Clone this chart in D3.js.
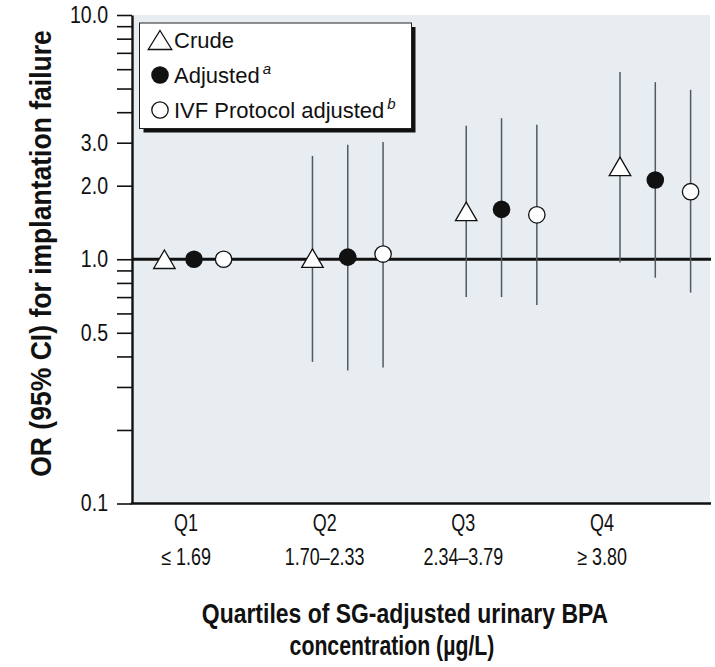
<!DOCTYPE html>
<html>
<head>
<meta charset="utf-8">
<script src="https://cdn.jsdelivr.net/npm/d3@7"></script>
<style>
  html, body { margin: 0; padding: 0; background: #ffffff; }
  svg { display: block; }
  text { font-family: "Liberation Sans", Arial, sans-serif; }
</style>
</head>
<body>
<script>
// ---------------- data ----------------
const categories = ["Q1", "Q2", "Q3", "Q4"];
const rangeLabels = ["\u2264 1.69", "1.70\u20132.33", "2.34\u20133.79", "\u2265 3.80"];
const seriesNames = ["Crude", "Adjusted", "IVF Protocol adjusted"];
const seriesSup = ["", "a", "b"];

const crudeOR = [1.00, 1.01, 1.57, 2.40];
const crudeLo = [null, 0.38, 0.70, 0.97];
const crudeHi = [null, 2.65, 3.52, 5.84];

const adjustedOR = [1.00, 1.02, 1.60, 2.11];
const adjustedLo = [null, 0.35, 0.70, 0.84];
const adjustedHi = [null, 2.94, 3.78, 5.31];

const ivfOR = [1.00, 1.05, 1.52, 1.89];
const ivfLo = [null, 0.36, 0.65, 0.73];
const ivfHi = [null, 3.02, 3.55, 4.94];

const yTickValues = [0.1, 0.2, 0.3, 0.4, 0.5, 0.6, 0.7, 0.8, 0.9, 1, 2, 3, 4, 5, 6, 7, 8, 9, 10];
const yLabeledTicks = [0.1, 0.5, 1, 2, 3, 10];

const yTitle = "OR (95% CI) for implantation failure";
const xTitle1 = "Quartiles of SG-adjusted urinary BPA";
const xTitle2 = "concentration (\u00b5g/L)";

// ---------------- layout ----------------
const W = 715, H = 667;
const plot = { left: 132, right: 711, top: 15, bottom: 503.5 };

const svg = d3.select("body").append("svg").attr("width", W).attr("height", H);

const y = d3.scaleLog().domain([0.1, 10]).range([plot.bottom, plot.top]);
const xGroup = d3.scalePoint().domain(categories).range([194, 655.3]);
const xLabel = d3.scalePoint().domain(categories).range([186, 602]);
const seriesIndex = d3.scaleLinear().domain([0, 2]).range([-1, 1]);

const series = [
  { name: seriesNames[0], or: crudeOR, lo: crudeLo, hi: crudeHi, shape: "triangle" },
  { name: seriesNames[1], or: adjustedOR, lo: adjustedLo, hi: adjustedHi, shape: "filled" },
  { name: seriesNames[2], or: ivfOR, lo: ivfLo, hi: ivfHi, shape: "open" }
];

function xPos(si, ci) {
  const hasCI = series[si].lo[ci] !== null;
  const spread = hasCI ? 35.3 : 29.6;
  return xGroup(categories[ci]) + seriesIndex(si) * spread;
}

// background
svg.append("rect")
  .attr("x", plot.left).attr("y", plot.top)
  .attr("width", 710 - plot.left).attr("height", plot.bottom - plot.top)
  .attr("fill", "#e8edf2");

// reference line at OR = 1
svg.append("line")
  .attr("x1", plot.left).attr("x2", plot.right)
  .attr("y1", y(1)).attr("y2", y(1))
  .attr("stroke", "#111").attr("stroke-width", 3);

// CI lines
series.forEach((s, si) => {
  categories.forEach((c, ci) => {
    if (s.lo[ci] === null) return;
    svg.append("line")
      .attr("x1", xPos(si, ci)).attr("x2", xPos(si, ci))
      .attr("y1", y(s.lo[ci])).attr("y2", y(s.hi[ci]))
      .attr("stroke", "#505b61").attr("stroke-width", 1.5);
  });
});

// markers
function triPath(w, h) {
  return `M0,${-h / 2}L${w / 2},${h / 2}L${-w / 2},${h / 2}Z`;
}
function drawMarker(g, shape, cx, cy, big) {
  if (shape === "triangle") {
    g.append("path").attr("d", big ? triPath(23.5, 19) : triPath(21.5, 18.5))
      .attr("transform", `translate(${cx},${cy})`)
      .attr("fill", "#ffffff").attr("stroke", "#111").attr("stroke-width", 1.3);
  } else if (shape === "filled") {
    g.append("circle").attr("cx", cx).attr("cy", cy).attr("r", 8.8)
      .attr("fill", "#111");
  } else {
    g.append("circle").attr("cx", cx).attr("cy", cy).attr("r", 8.2)
      .attr("fill", "#ffffff").attr("stroke", "#111").attr("stroke-width", 1.3);
  }
}
const markG = svg.append("g");
series.forEach((s, si) => {
  categories.forEach((c, ci) => {
    drawMarker(markG, s.shape, xPos(si, ci), y(s.or[ci]), false);
  });
});

// y axis
const yAxis = d3.axisLeft(y)
  .tickValues(yTickValues)
  .tickSize(15)
  .tickSizeOuter(0)
  .tickFormat(d => yLabeledTicks.includes(d) ? d3.format(".1f")(d) : "");
const yAxisG = svg.append("g").attr("transform", `translate(${plot.left},0)`).call(yAxis);
yAxisG.select(".domain").attr("stroke", "#111").attr("stroke-width", 2.4);
yAxisG.selectAll(".tick line").attr("stroke", "#111").attr("stroke-width", 1.6);
yAxisG.selectAll(".tick text")
  .attr("x", 0)
  .attr("transform", "translate(-24,0) scale(0.85,1)")
  .attr("font-family", "'Liberation Sans', Arial, sans-serif")
  .attr("font-size", 23)
  .attr("fill", "#111");

// bottom axis line
svg.append("line")
  .attr("x1", plot.left - 1.2).attr("x2", plot.right)
  .attr("y1", plot.bottom).attr("y2", plot.bottom)
  .attr("stroke", "#111").attr("stroke-width", 2.6);

// x tick labels
const xl = svg.append("g");
categories.forEach((c, ci) => {
  xl.append("text")
    .attr("transform", `translate(${xLabel(c)},531) scale(0.78,1)`)
    .attr("text-anchor", "middle").attr("font-size", 23).attr("fill", "#111")
    .text(c);
  xl.append("text")
    .attr("transform", `translate(${xLabel(c)},565) scale(0.78,1)`)
    .attr("text-anchor", "middle").attr("font-size", 23).attr("fill", "#111")
    .text(rangeLabels[ci]);
});

// axis titles (condensed via horizontal scaling)
svg.append("text")
  .attr("transform", `translate(51,${(30 + 477) / 2}) rotate(-90) scale(0.983,1.11)`)
  .attr("text-anchor", "middle").attr("font-size", 27).attr("font-weight", "bold").attr("fill", "#111")
  .text(yTitle);
svg.append("text")
  .attr("transform", "translate(405,623) scale(0.82,1)")
  .attr("text-anchor", "middle").attr("font-size", 28).attr("font-weight", "bold").attr("fill", "#111")
  .text(xTitle1);
svg.append("text")
  .attr("transform", "translate(392,655) scale(0.76,1)")
  .attr("text-anchor", "middle").attr("font-size", 28).attr("font-weight", "bold").attr("fill", "#111")
  .text(xTitle2);

// legend
const lg = svg.append("g");
const lgBox = { x: 139.5, y: 23, w: 272, h: 105.5 };
lg.append("rect").attr("x", lgBox.x + 4).attr("y", lgBox.y + 4)
  .attr("width", lgBox.w).attr("height", lgBox.h).attr("fill", "#111");
lg.append("rect").attr("x", lgBox.x).attr("y", lgBox.y)
  .attr("width", lgBox.w).attr("height", lgBox.h)
  .attr("fill", "#ffffff").attr("stroke", "#222").attr("stroke-width", 1);
const legendRowY = d3.scalePoint().domain(seriesNames).range([40, 110]);
series.forEach((s, si) => {
  const cy = legendRowY(s.name);
  drawMarker(lg, s.shape, 160, cy, true);
  const t = lg.append("text")
    .attr("x", 174).attr("y", cy + 8)
    .attr("font-size", 22).attr("fill", "#111")
    .text(s.name);
  if (seriesSup[si]) {
    t.append("tspan").attr("font-style", "italic").attr("font-size", 15)
      .attr("dx", 3).attr("dy", -9).text(seriesSup[si]);
  }
});
</script>
</body>
</html>
